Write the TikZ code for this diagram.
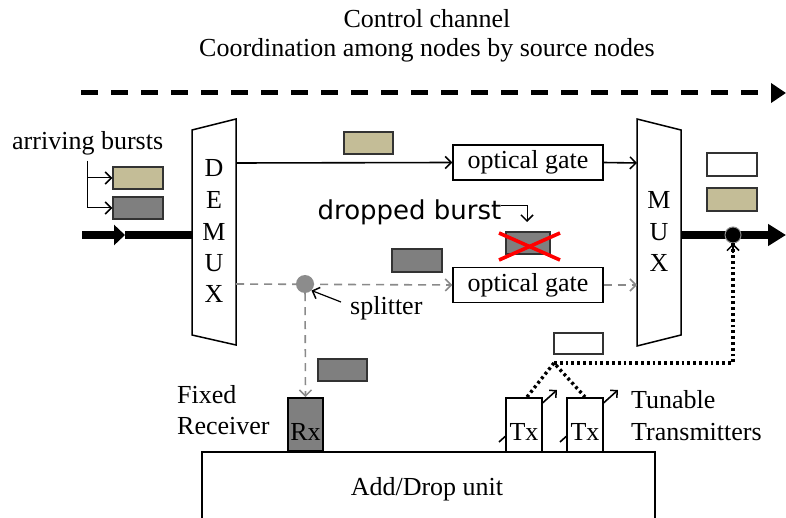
\documentclass[tikz,border=0pt]{standalone}
\usepackage{fontspec}
\setmainfont{Liberation Serif}
\newfontfamily\dvs{DejaVu Sans}
\usetikzlibrary{arrows.meta,calc}
\definecolor{tanb}{HTML}{C4BD97}
\definecolor{grayb}{HTML}{7F7F7F}
\definecolor{splg}{HTML}{8C8C8C}
\definecolor{dashg}{HTML}{8A8A8A}
\begin{document}
\begin{tikzpicture}[x=1pt,y=-1pt,
  lbl/.style={font=\fontsize{26}{30}\selectfont, inner sep=0pt},
  sanslbl/.style={font=\dvs\fontsize{26}{30}\selectfont, inner sep=0pt},
  burst/.style={draw=black!80, line width=1.5pt, minimum width=49pt, minimum height=22pt, inner sep=0pt},
  gate/.style={draw, line width=1.4pt, minimum width=150pt, minimum height=35pt, inner sep=0pt, font=\fontsize{26}{30}\selectfont},
  txbox/.style={draw, fill=white, line width=2.4pt, minimum width=36pt, minimum height=54pt, inner sep=0pt},
  openarrow/.style={-{Straight Barb[length=6pt,width=12pt,line width=1.5pt]}},
  solidline/.style={line width=1.6pt, openarrow},
  gdash/.style={draw=dashg, line width=1.6pt, dash pattern=on 8pt off 6pt, openarrow},
  dotline/.style={line width=3.4pt, dash pattern=on 2.8pt off 3pt},
  thickline/.style={line width=8pt},
  tunearrow/.style={line width=1.6pt, -{Straight Barb[length=5pt,width=10pt,line width=1.5pt]}},
]
\useasboundingbox (0,0) rectangle (786,518);

% titles
\node[lbl] (t1) at (427,19) {Control channel};
\node[lbl] (t2) at (427,50) {Coordination among nodes by source nodes};

% control channel dashed arrow
\coordinate (ccS) at (81,93);
\coordinate (ccE) at (786,93);
\draw[line width=5pt, dash pattern=on 17pt off 13pt, -{Triangle[length=15pt,width=19pt]}] (ccS) -- (ccE);

% DEMUX and MUX
\coordinate (dm1) at (192,130); \coordinate (dm2) at (236,119);
\coordinate (dm3) at (236,345); \coordinate (dm4) at (192,335);
\draw[line width=1.5pt] (dm1) -- (dm2) -- (dm3) -- (dm4) -- cycle;
\coordinate (mx1) at (637,119); \coordinate (mx2) at (681,130);
\coordinate (mx3) at (681,335); \coordinate (mx4) at (637,346);
\draw[line width=1.5pt] (mx1) -- (mx2) -- (mx3) -- (mx4) -- cycle;
\node[lbl] (dD) at (214,168) {D};
\node[lbl] (dE) at (214,200) {E};
\node[lbl] (dM) at (214,232) {M};
\node[lbl] (dU) at (214,263) {U};
\node[lbl] (dX) at (214,294) {X};
\node[lbl] (mM) at (659,200) {M};
\node[lbl] (mU) at (659,232) {U};
\node[lbl] (mX) at (659,263) {X};

% arriving bursts
\node[lbl, anchor=west] (arr) at (12,143) {arriving bursts};
\node[burst, fill=tanb, minimum width=50pt] (ab1) at (138,178) {};
\node[burst, fill=grayb, minimum width=50pt] (ab2) at (138,208) {};
\coordinate (arrTop) at (87,161);
\draw[line width=1pt, openarrow] (arrTop) |- (ab1.west);
\draw[line width=1pt, openarrow] (arrTop) |- (ab2.west);

% input thick line
\coordinate (inS) at (82,235);
\coordinate (inM) at (125,235);
\coordinate (demuxIn) at (192,235);
\draw[thickline, -{Triangle[length=11pt,width=20pt]}] (inS) -- (inM);
\draw[thickline] (inM) -- (demuxIn);

% gates
\node[gate] (g1) at (528,162.5) {optical gate};
\node[gate] (g2) at (528,285) {optical gate};

% upper path
\coordinate (dr1) at (236,163);
\coordinate (ml1) at (637,163);
\node[burst, fill=tanb] (b1) at (368.5,143) {};
\draw[solidline] (dr1) -- (g1.west);
\draw[solidline] (g1.east) -- (ml1);

% lower path
\coordinate (dr2) at (236,284);
\coordinate (ml2) at (637,285);
\node[burst, fill=grayb, minimum width=50pt, minimum height=23pt] (b2) at (417,260.5) {};
\draw[gdash] (dr2) -- (g2.west);
\draw[gdash] (g2.east) -- (ml2);
\node[circle, fill=splg, minimum size=18pt, inner sep=0pt] (spl) at (305,284) {};
\node[lbl, anchor=west] (splt) at (350,308) {splitter};
\coordinate (splA) at (341,302);
\draw[line width=1.2pt, openarrow] (splA) -- (spl.south east);

% dropped burst
\node[sanslbl] (dbt) at (409.5,212) {dropped burst};
\node[burst, fill=grayb, minimum width=44pt] (db) at (528,243) {};
\draw[red, line width=3.6pt] ($(db)+(-29,-10)$) -- ($(db)+(32,17)$);
\draw[red, line width=3.6pt] ($(db)+(-29,17)$) -- ($(db)+(32,-10)$);
\coordinate (dbA) at (501,206);
\coordinate (dbB) at (527,222);
\draw[line width=1pt, openarrow] (dbA) -| (dbB);

% output
\coordinate (muxOut) at (681,235);
\coordinate (outE) at (786,235);
\draw[thickline, -{Triangle[length=18pt,width=21pt]}] (muxOut) -- (outE);
\node[circle, fill=black, draw=splg, line width=1pt, minimum size=16pt, inner sep=0pt] (dot) at (733,235) {};
\node[burst, fill=white, minimum width=50pt, minimum height=23pt] (ob1) at (732,164.5) {};
\node[burst, fill=tanb, minimum width=50pt, minimum height=23pt] (ob2) at (732,199.5) {};

% Add/Drop unit
\node[draw, line width=2pt, minimum width=453pt, minimum height=90pt, inner sep=0pt, anchor=north west] (adu) at (201,451) {};
\node[lbl] (adut) at (427,489) {Add/Drop unit};

% receiver
\node[draw, fill=grayb, line width=2pt, minimum width=35pt, minimum height=53pt, inner sep=0pt] (rx) at (305.5,424.5) {};
\node[lbl] (rxt) at (305.5,432) {Rx};
\draw[gdash] (spl) -- (rx.north);
\node[burst, fill=grayb] (b3) at (342.5,370) {};
\node[lbl, anchor=west] (fx1) at (177,395) {Fixed};
\node[lbl, anchor=west] (fx2) at (177,426) {Receiver};

% transmitters
\coordinate (ta1) at (499,442); \coordinate (tb1) at (557,390);
\coordinate (ta2) at (560,442); \coordinate (tb2) at (618,390);
\draw[tunearrow] (ta1) -- (tb1);
\draw[tunearrow] (ta2) -- (tb2);
\node[txbox] (tx1) at (524,425) {};
\node[txbox] (tx2) at (585,425) {};
\node[lbl] (tx1t) at (524,432) {Tx};
\node[lbl] (tx2t) at (585,432) {Tx};
\node[lbl, anchor=west] (tn1) at (631,400) {Tunable};
\node[lbl, anchor=west] (tn2) at (631,432) {Transmitters};
\node[burst, fill=white, minimum height=21pt] (b4) at (578.5,343.5) {};

% dotted path
\coordinate (junc) at (554,363);
\coordinate (jl) at (527,397);
\coordinate (jr) at (585,397);
\draw[dotline] (jl) -- (junc) -- (jr);
\draw[dotline] (junc) -| (dot.south);
\draw[line width=1.6pt, openarrow] ($(dot.south)+(0,10)$) -- (dot.south);
\end{tikzpicture}
\end{document}
